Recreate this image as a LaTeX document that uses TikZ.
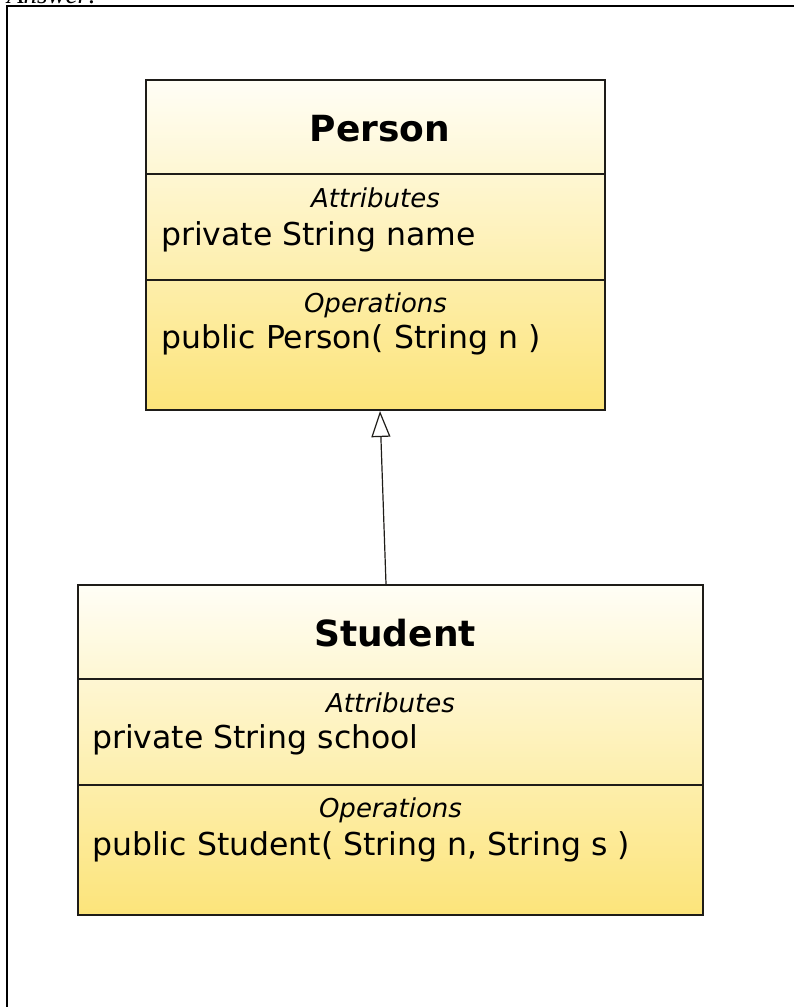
\documentclass[tikz,border=0pt]{standalone}
\usepackage{fontspec}
\setmainfont{DejaVu Sans}
\newfontfamily\answerfont{Liberation Serif}
\usepackage{tikz}
\usetikzlibrary{arrows.meta,positioning}
\usepackage{xcolor}
\definecolor{umltop}{RGB}{255,254,246}
\definecolor{umlbottom}{RGB}{252,228,122}
\definecolor{umlline}{RGB}{30,28,24}

\begin{document}
\begin{tikzpicture}[x=1pt, y=-1pt,
  classbox/.style={draw=umlline, line width=2pt, top color=umltop, bottom color=umlbottom,
    minimum height=330pt, inner sep=0pt},
  divider/.style={umlline, line width=2.4pt},
  classname/.style={font=\fontsize{36}{40}\selectfont\bfseries, anchor=base},
  section/.style={font=\fontsize{26}{30}\selectfont\itshape, anchor=base},
  member/.style={font=\fontsize{31.5}{36}\selectfont, anchor=base west, inner sep=0pt}]
  \useasboundingbox (0,0) rectangle (794,1007);
  % page frame and the cut-off heading
  \draw[line width=1.5pt] (7,1010) -- (7,6) -- (797,6);
  \node[font=\answerfont\fontsize{27}{30}\selectfont\itshape, anchor=base west, inner sep=0pt]
    (answer) at (7,3) {Answer:};
  % superclass
  \node[classbox, minimum width=459pt] (person) at (375.5,245) {};
  \draw[divider] ([yshift=-95pt]person.north west) -- ([yshift=-95pt]person.north east);
  \draw[divider] ([yshift=-201pt]person.north west) -- ([yshift=-201pt]person.north east);
  \node[classname] (pname) at (380,141) {Person};
  \node[section] (pattr) at (375.5,207) {Attributes};
  \node[member] (pfield) at (161,245) {private String name};
  \node[section] (poper) at (375.5,312) {Operations};
  \node[member] (pctor) at (161,348) {public Person( String n )};
  % subclass
  \node[classbox, minimum width=625pt] (student) at (390.5,750) {};
  \draw[divider] ([yshift=-95pt]student.north west) -- ([yshift=-95pt]student.north east);
  \draw[divider] ([yshift=-201pt]student.north west) -- ([yshift=-201pt]student.north east);
  \node[classname] (sname) at (395,646) {Student};
  \node[section] (sattr) at (390.5,712) {Attributes};
  \node[member] (sfield) at (92,748) {private String school};
  \node[section] (soper) at (390.5,817) {Operations};
  \node[member] (sctor) at (92,855) {public Student( String n, String s )};
  % generalization
  \draw[-{Triangle[open, length=26pt, width=19pt, fill=white]}, line width=1.2pt, umlline]
    ([xshift=-4.5pt]student.north) -- ([xshift=4.5pt]person.south);
\end{tikzpicture}
\end{document}
